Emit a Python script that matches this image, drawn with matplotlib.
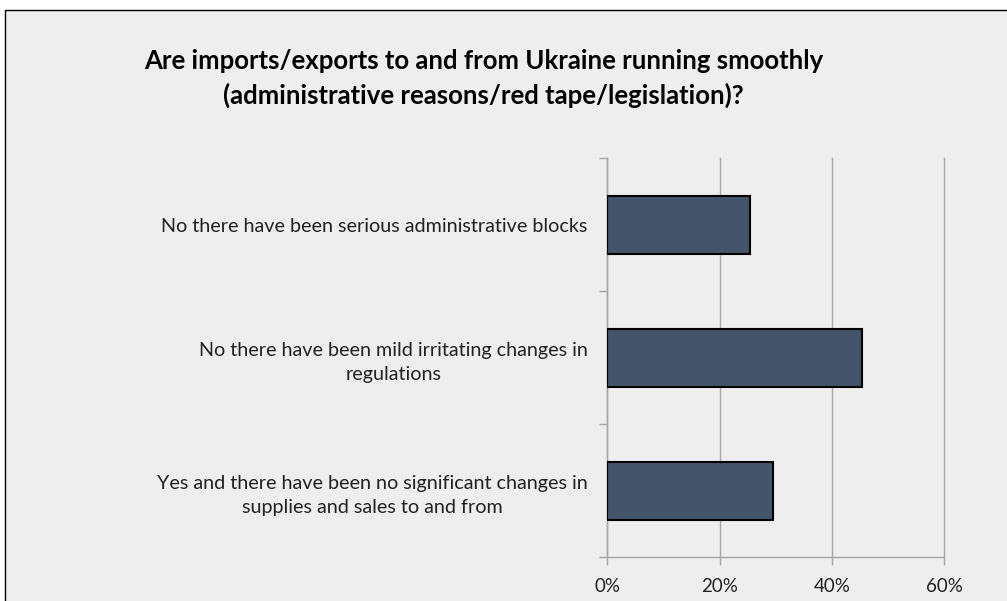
import matplotlib
matplotlib.use("Agg")
import matplotlib.pyplot as plt
from matplotlib.patches import Rectangle
from matplotlib.ticker import MultipleLocator, PercentFormatter

plt.rcParams.update({
    "font.family": ["Lato", "DejaVu Sans"],
    "font.size": 11,
})

TITLE = ("Are imports/exports to and from Ukraine running smoothly\n"
         "(administrative reasons/red tape/legislation)?")
answers = [
    "No there have been serious administrative blocks",
    "No there have been mild irritating changes in\nregulations",
    "Yes and there have been no significant changes in\nsupplies and sales to and from",
]
shares = [25.4, 45.3, 29.5]

BG = "#eeeeee"
BAR = "#44546a"
AXIS = "#a6a6a6"
TXT = "#222222"

fig = plt.figure(figsize=(10.07, 6.01), dpi=100, facecolor="white")
# chart area panel with a dark frame running off the right/bottom edge
fig.patches.append(Rectangle((5 / 1007, -0.1), 1.2, 1 - 10 / 601 + 0.1,
                             transform=fig.transFigure, facecolor=BG,
                             edgecolor="black", linewidth=1.0, zorder=-5))

ax = fig.add_axes([0.603, 0.0727, 0.3345, 0.664])
ax.set_facecolor("none")
ax.set_zorder(2)

ypos = list(range(len(answers)))[::-1]
ax.barh(ypos, shares, height=0.435, color=BAR, edgecolor="black",
        linewidth=1.5, zorder=3)

ax.set_xlim(0, 60)
ax.set_ylim(-0.5, len(answers) - 0.5)
ax.xaxis.set_major_locator(MultipleLocator(20))
ax.xaxis.set_major_formatter(PercentFormatter(decimals=0))
ax.grid(axis="x", color=AXIS, linewidth=1.0, zorder=0)
for gl in ax.get_xgridlines():
    gl.set_clip_on(False)

# category ticks sit on the boundaries between bars
ax.set_yticks([y - 0.5 for y in range(len(answers) + 1)], minor=False)
ax.set_yticklabels([])
ax.set_yticks(ypos, minor=True)
ax.set_yticklabels(answers, minor=True, ha="right", multialignment="center",
                   fontsize=14.2, color=TXT, linespacing=1.5)
ax.tick_params(axis="y", which="minor", length=0, pad=14)
ax.tick_params(axis="y", which="major", length=6, color=AXIS, width=1)
ax.tick_params(axis="x", length=6, color=AXIS, width=1, pad=9,
               labelsize=13.5, labelcolor=TXT)

for s in ("top", "right"):
    ax.spines[s].set_visible(False)
for s in ("left", "bottom"):
    ax.spines[s].set_color(AXIS)
    ax.spines[s].set_linewidth(1.0)

fig.text(0.48, 0.918, TITLE, ha="center", va="top", fontsize=18.5,
         fontweight="bold", linespacing=1.45, color="black")

fig.savefig("out.png", dpi=100, facecolor="white")
